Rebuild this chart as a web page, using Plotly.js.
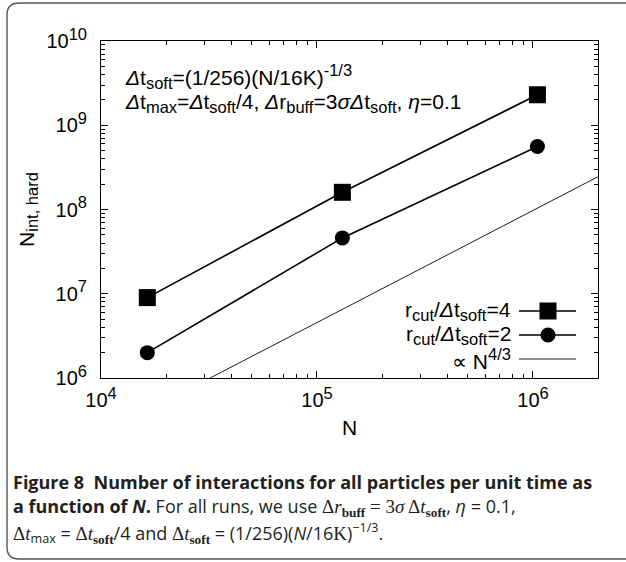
<!DOCTYPE html>
<html>
<head>
<meta charset="utf-8">
<script src="https://cdn.plot.ly/plotly-3.0.1.min.js"></script>
<style>
html,body{margin:0;padding:0;background:#fff;}
#chart{width:626px;height:562px;}
</style>
</head>
<body>
<div id="chart"></div>
<script>
// ---- data ----
const particleN = [16384, 131072, 1048576];
const nIntRcut4 = [9.0e6, 1.6e8, 2.3e9];
const nIntRcut2 = [2.0e6, 4.6e7, 5.6e8];
const refN = [3.2e4, 2.0e6];
const refN43 = [1.0e6, 2.45e8];

const xTickVals = [1e4, 1e5, 1e6];
const xTickExp = ['4', '5', '6'];
const yTickVals = [1e6, 1e7, 1e8, 1e9, 1e10];
const yTickExp = ['6', '7', '8', '9', '10'];

// small helpers for gnuplot-like sub/superscripts (80% size)
const SUP = s => '<sup><span style="font-size:16.5px">' + s + '</span></sup>';
const SUB = s => '<sub><span style="font-size:16.5px">' + s + '</span></sub>';

const legendLabels = [
  'r' + SUB('cut') + '/<i>Δ</i>t' + SUB('soft') + '=4',
  'r' + SUB('cut') + '/<i>Δ</i>t' + SUB('soft') + '=2',
  '∝ N' + SUP('4/3')
];
const noteLines = [
  '<i>Δ</i>t' + SUB('soft') + '=(1/256)(N/16K)' + SUP('-1/3'),
  '<i>Δ</i>t' + SUB('max') + '=<i>Δ</i>t' + SUB('soft') + '/4, <i>Δ</i>r' + SUB('buff') +
    '=3<i>σΔ</i>t' + SUB('soft') + ', <i>η</i>=0.1'
];
const SERIF = s => '<span style="font-family:Liberation Serif;font-size:19px">' + s + '</span>';
const captionLines = [
  '<b>Figure 8\u00a0\u00a0Number of interactions for all particles per unit time as</b>',
  '<b>a function of <i>N</i>.</b> For all runs, we use ' + SERIF('Δ<i>r</i><sub><b>buff</b></sub> = 3<i>σ</i> Δ<i>t</i><sub><b>soft</b></sub>') + ', <i>η</i> = 0.1,',
  SERIF('Δ<i>t</i>') + '<sub>max</sub> = ' + SERIF('Δ<i>t</i><sub><b>soft</b></sub>') + '/4 and ' +
    SERIF('Δ<i>t</i><sub><b>soft</b></sub>') + ' = (1/256)(<i>N</i>/16' + SERIF('K') + ')<sup>−1/3</sup>.'
];

// ---- geometry helpers (pixel -> paper) ----
const L = 101, R = 598, T = 41, B = 378;
const px = x => (x - L) / (R - L);
const py = y => (B - y) / (B - T);

function minorVals(lo, hi) {
  const v = [];
  for (let e = lo; e < hi; e++) for (let m = 2; m <= 9; m++) v.push(m * Math.pow(10, e));
  return v;
}

const FONT = 'Liberation Sans, Arial, sans-serif';
const CAPFONT = 'Open Sans, Noto Sans, sans-serif';

const traces = [
  {x: particleN, y: nIntRcut4, mode: 'lines+markers', name: 'rcut4',
   line: {color: '#000', width: 1.6}, marker: {symbol: 'square', size: 17, color: '#000'}},
  {x: particleN, y: nIntRcut2, mode: 'lines+markers', name: 'rcut2',
   line: {color: '#000', width: 1.6}, marker: {symbol: 'circle', size: 15, color: '#000'}},
  {x: refN, y: refN43, mode: 'lines', name: 'N43',
   line: {color: '#000', width: 0.9}}
];

const axisCommon = {
  type: 'log', showline: true, linecolor: '#000', linewidth: 1, mirror: 'ticks',
  ticks: 'inside', ticklen: 7, tickcolor: '#000', tickwidth: 1,
  showgrid: false, zeroline: false, tickmode: 'array',
  tickfont: {family: FONT, size: 20, color: '#000'},
  minor: {ticks: 'inside', ticklen: 4, tickcolor: '#000', tickwidth: 1, tickmode: 'array', showgrid: false}
};

const rows = [311, 335, 359];
const shapes = [];
const annotations = [];

// legend (text left of the sample, as in the reference)
rows.forEach((yy, i) => {
  shapes.push({type: 'line', xref: 'paper', yref: 'paper', x0: px(519), x1: px(576), y0: py(yy), y1: py(yy),
    line: {color: '#000', width: i < 2 ? 1.6 : 0.9}});
  annotations.push({xref: 'paper', yref: 'paper', x: px(513), y: py(yy), xanchor: 'right', yanchor: 'middle',
    showarrow: false, text: legendLabels[i], font: {family: FONT, size: 21, color: '#000'}});
});
shapes.push({type: 'rect', xref: 'paper', yref: 'paper', x0: px(539.5), x1: px(556.5), y0: py(rows[0] - 8.5), y1: py(rows[0] + 8.5),
  fillcolor: '#000', line: {width: 0}});
shapes.push({type: 'circle', xref: 'paper', yref: 'paper', x0: px(540.5), x1: px(555.5), y0: py(rows[1] - 7.5), y1: py(rows[1] + 7.5),
  fillcolor: '#000', line: {width: 0}});

// notes in plot
[76, 103].forEach((yy, i) => {
  annotations.push({xref: 'paper', yref: 'paper', x: px(123), y: py(yy), xanchor: 'left', yanchor: 'middle',
    showarrow: false, text: noteLines[i], font: {family: FONT, size: 21, color: '#000'}});
});

// caption
[482, 507, 533].forEach((yy, i) => {
  annotations.push({xref: 'paper', yref: 'paper', x: px(11), y: py(yy), xanchor: 'left', yanchor: 'middle',
    showarrow: false, text: captionLines[i], font: {family: CAPFONT, size: 18, color: '#231f20'}});
});

// rounded frame (open on the right, as in the reference)
const P = (x, y) => px(x) + ',' + py(y);
shapes.push({type: 'path', xref: 'paper', yref: 'paper',
  path: 'M' + P(640, 3) + ' L' + P(19, 3) + ' Q' + P(7, 3) + ' ' + P(7, 15) + ' L' + P(7, 547) +
        ' Q' + P(7, 559) + ' ' + P(19, 559) + ' L' + P(640, 559),
  line: {color: '#555', width: 1.4}});

const layout = {
  width: 626, height: 562,
  margin: {l: L, r: 626 - R, t: T, b: 562 - B, pad: 0},
  paper_bgcolor: '#fff', plot_bgcolor: '#fff',
  showlegend: false,
  xaxis: Object.assign({}, axisCommon, {
    range: [4, Math.log10(2e6)], tickvals: xTickVals,
    ticktext: xTickExp.map(e => '10' + SUP(e)),
    minor: Object.assign({}, axisCommon.minor, {tickvals: minorVals(4, 7)}),
    ticklabelstandoff: 4,
    title: {text: 'N', font: {family: FONT, size: 21, color: '#000'}, standoff: 10}
  }),
  yaxis: Object.assign({}, axisCommon, {
    range: [6, 10], tickvals: yTickVals,
    ticktext: yTickExp.map(e => '10' + SUP(e)),
    minor: Object.assign({}, axisCommon.minor, {tickvals: minorVals(6, 10)}),
    ticklabelstandoff: 9,
    title: {text: 'N' + SUB('int, hard'), font: {family: FONT, size: 21, color: '#000'}, standoff: 6}
  }),
  shapes: shapes,
  annotations: annotations
};

Plotly.newPlot('chart', traces, layout, {displayModeBar: false, staticPlot: true});
</script>
</body>
</html>
